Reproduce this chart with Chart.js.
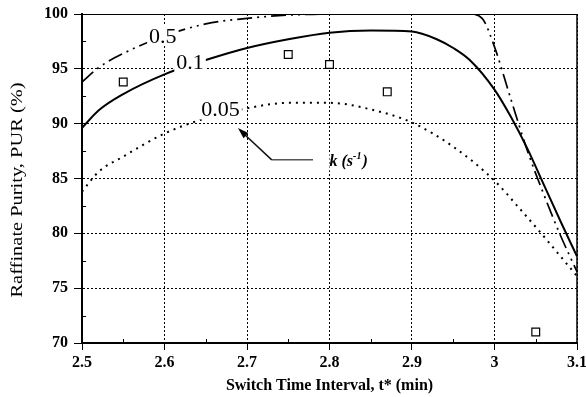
<!DOCTYPE html>
<html>
<head>
<meta charset="utf-8">
<script src="https://cdn.jsdelivr.net/npm/chart.js@4.4.0/dist/chart.umd.min.js"></script>
<style>
  html, body { margin: 0; padding: 0; background: #fff; }
  #wrap { width: 586px; height: 397px; }
</style>
</head>
<body>
<div id="wrap"><canvas id="purityChart" width="586" height="397"></canvas></div>
<script>
// switch time t* (min) vs raffinate purity (%) for three rate constants
const tK05 = [2.5, 2.52, 2.55, 2.6, 2.65, 2.7, 2.75, 2.8, 2.9, 2.97, 2.985, 3.0, 3.02, 3.04, 3.06, 3.08, 3.1];
const purK05 = [93.8, 95.1, 96.4, 98.0, 99.1, 99.6, 99.9, 100, 100, 100, 99.6, 97.0, 92.2, 87.5, 83.5, 79.8, 76.5];

const tK01 = [2.5, 2.52, 2.55, 2.6, 2.65, 2.7, 2.75, 2.8, 2.85, 2.9, 2.93, 2.95, 2.97, 3.0, 3.02, 3.04, 3.06, 3.08, 3.1];
const purK01 = [89.6, 91.2, 92.7, 94.5, 95.8, 96.9, 97.7, 98.3, 98.5, 98.4, 97.7, 96.9, 95.8, 93.1, 90.6, 87.7, 84.4, 81.1, 77.9];

const tK005 = [2.5, 2.52, 2.55, 2.6, 2.65, 2.7, 2.75, 2.8, 2.85, 2.9, 2.95, 3.0, 3.03, 3.06, 3.08, 3.1];
const purK005 = [83.8, 85.6, 87.0, 89.1, 90.5, 91.4, 91.9, 91.9, 91.3, 90.1, 87.9, 84.8, 82.3, 79.7, 77.9, 76.1];

// measured points
const tExp = [2.55, 2.75, 2.8, 2.87, 3.05];
const purExp = [93.8, 96.3, 95.4, 92.9, 71.0];

const xTicks = [2.5, 2.6, 2.7, 2.8, 2.9, 3, 3.1];
const yTicks = [70, 75, 80, 85, 90, 95, 100];
const xMinor = [2.55, 2.65, 2.75, 2.85, 2.95, 3.05];
const yMinor = [72.5, 77.5, 82.5, 87.5, 92.5, 97.5];

// curve labels: text, t, purity
const curveLabels = [
  ['0.5', 2.598, 98.0],
  ['0.1', 2.631, 95.6],
  ['0.05', 2.668, 91.3]
];
// arrow pointing at the k labels
const arrowTip = [2.689, 89.6];
const arrowElbow = [2.730, 86.7];
const arrowEnd = [2.780, 86.7];
const kTextAt = [2.800, 86.7];

const SERIF = '"Liberation Serif", "Times New Roman", serif';
const pairs = (xs, ys) => xs.map((x, i) => ({ x: x, y: ys[i] }));

const curve = (label, xs, ys, dash, width) => ({
  label: label,
  data: pairs(xs, ys),
  borderColor: '#000',
  borderWidth: width,
  borderDash: dash,
  pointRadius: 0,
  fill: false,
  cubicInterpolationMode: 'monotone'
});

const decorations = {
  id: 'decorations',
  afterDatasetsDraw(chart) {
    const ctx = chart.ctx;
    const xs = chart.scales.x, ys = chart.scales.y;

    ctx.save();
    // curve labels on white boxes
    ctx.font = '22px ' + SERIF;
    ctx.textAlign = 'center';
    ctx.textBaseline = 'middle';
    curveLabels.forEach(([txt, t, p]) => {
      const px = xs.getPixelForValue(t), py = ys.getPixelForValue(p);
      const w = ctx.measureText(txt).width + 4;
      ctx.fillStyle = '#fff';
      ctx.fillRect(px - w / 2, py - 10, w, 20);
      ctx.fillStyle = '#000';
      ctx.fillText(txt, px, py + 1);
    });

    // arrow
    const tip = [xs.getPixelForValue(arrowTip[0]), ys.getPixelForValue(arrowTip[1])];
    const elb = [xs.getPixelForValue(arrowElbow[0]), ys.getPixelForValue(arrowElbow[1])];
    const end = [xs.getPixelForValue(arrowEnd[0]), ys.getPixelForValue(arrowEnd[1])];
    ctx.lineWidth = 1.5;
    ctx.strokeStyle = '#555';
    ctx.beginPath();
    ctx.moveTo(end[0], end[1]);
    ctx.lineTo(elb[0], elb[1]);
    ctx.stroke();
    ctx.strokeStyle = '#111';
    ctx.beginPath();
    ctx.moveTo(elb[0], elb[1]);
    ctx.lineTo(tip[0] + 4, tip[1] + 4);
    ctx.stroke();
    const ang = Math.atan2(tip[1] - elb[1], tip[0] - elb[0]);
    ctx.fillStyle = '#000';
    ctx.beginPath();
    ctx.moveTo(tip[0], tip[1]);
    ctx.lineTo(tip[0] - 11 * Math.cos(ang) + 3.5 * Math.sin(ang), tip[1] - 11 * Math.sin(ang) - 3.5 * Math.cos(ang));
    ctx.lineTo(tip[0] - 11 * Math.cos(ang) - 3.5 * Math.sin(ang), tip[1] - 11 * Math.sin(ang) + 3.5 * Math.cos(ang));
    ctx.closePath();
    ctx.fill();

    // k (s^-1)
    let kx = xs.getPixelForValue(kTextAt[0]);
    const ky = ys.getPixelForValue(kTextAt[1]) + 6;
    ctx.textAlign = 'left';
    ctx.textBaseline = 'alphabetic';
    const parts = [['k (s', 0, 16], ['-1', -7, 10], [')', 0, 16]];
    parts.forEach(([s, dy, size]) => {
      ctx.font = 'italic bold ' + size + 'px ' + SERIF;
      const w = ctx.measureText(s).width;
      ctx.fillStyle = '#fff';
      ctx.fillRect(kx, ky - 14, w + 1, 19);
      ctx.fillStyle = '#000';
      ctx.fillText(s, kx, ky + dy);
      kx += w + (size < 16 ? 1 : 0);
    });
    ctx.restore();
  },
  afterDraw(chart) {
    const ctx = chart.ctx;
    const xs = chart.scales.x, ys = chart.scales.y;
    const a = chart.chartArea;
    ctx.save();
    // top and right frame
    ctx.strokeStyle = '#000';
    ctx.lineWidth = 1;
    ctx.beginPath();
    ctx.moveTo(a.left, a.top + 0.5);
    ctx.lineTo(a.right, a.top + 0.5);
    ctx.stroke();
    ctx.lineWidth = 1.5;
    ctx.beginPath();
    ctx.moveTo(a.right, a.top);
    ctx.lineTo(a.right, a.bottom);
    ctx.stroke();

    // inward minor ticks
    ctx.lineWidth = 1;
    ctx.beginPath();
    xMinor.forEach(v => {
      const px = Math.round(xs.getPixelForValue(v)) + 0.5;
      ctx.moveTo(px, a.bottom);
      ctx.lineTo(px, a.bottom - 4);
    });
    yMinor.forEach(v => {
      const py = Math.round(ys.getPixelForValue(v)) + 0.5;
      ctx.moveTo(a.left, py);
      ctx.lineTo(a.left + 4, py);
    });
    ctx.stroke();

    // axis titles
    ctx.fillStyle = '#000';
    ctx.font = 'bold 16px ' + SERIF;
    ctx.textAlign = 'center';
    ctx.textBaseline = 'middle';
    ctx.fillText('Switch Time Interval, t* (min)', (a.left + a.right) / 2, 386);

    ctx.translate(18, 190);
    ctx.rotate(-Math.PI / 2);
    ctx.font = '17px ' + SERIF;
    const title = 'Raffinate Purity, PUR (%)';
    const tw = ctx.measureText(title).width;
    ctx.scale(215 / tw, 1);
    ctx.fillText(title, 0, 0);
    ctx.restore();
  }
};

const tickFont = { family: SERIF, size: 16, weight: 'bold' };

new Chart(document.getElementById('purityChart'), {
  type: 'line',
  data: {
    datasets: [
      curve('0.5', tK05, purK05, [15, 5, 2, 5, 2, 5], 1.7),
      curve('0.1', tK01, purK01, [], 2),
      curve('0.05', tK005, purK005, [2, 5], 2),
      {
        label: 'measured',
        data: pairs(tExp, purExp),
        showLine: false,
        pointStyle: 'rect',
        pointRadius: 5.5,
        pointBorderWidth: 1.2,
        pointBorderColor: '#000',
        pointBackgroundColor: '#fff',
        borderColor: '#000',
        backgroundColor: '#fff'
      }
    ]
  },
  options: {
    responsive: false,
    animation: false,
    events: [],
    layout: { padding: { left: 0, right: 9, top: 14, bottom: 0 } },
    plugins: { legend: { display: false }, tooltip: { enabled: false } },
    scales: {
      x: {
        type: 'linear',
        min: 2.5,
        max: 3.1,
        afterBuildTicks: s => { s.ticks = xTicks.map(v => ({ value: v })); },
        afterFit: s => { s.height = 54; s.paddingLeft = 0; s.paddingRight = 0; },
        ticks: { font: tickFont, color: '#000', padding: 3, maxRotation: 0, autoSkip: false,
                 callback: v => String(v) },
        grid: { color: '#000', lineWidth: 1, tickLength: 7 },
        border: { display: true, color: '#000', width: 2, dash: [2, 2] }
      },
      y: {
        min: 70,
        max: 100,
        afterBuildTicks: s => { s.ticks = yTicks.map(v => ({ value: v })); },
        afterFit: s => { s.width = 82; s.paddingTop = 0; s.paddingBottom = 0; },
        ticks: { font: tickFont, color: '#000', padding: 6, autoSkip: false,
                 callback: v => String(v) },
        grid: { color: '#000', lineWidth: 1, tickLength: 8 },
        border: { display: true, color: '#000', width: 2, dash: [2, 2] }
      }
    }
  },
  plugins: [decorations]
});
</script>
</body>
</html>
